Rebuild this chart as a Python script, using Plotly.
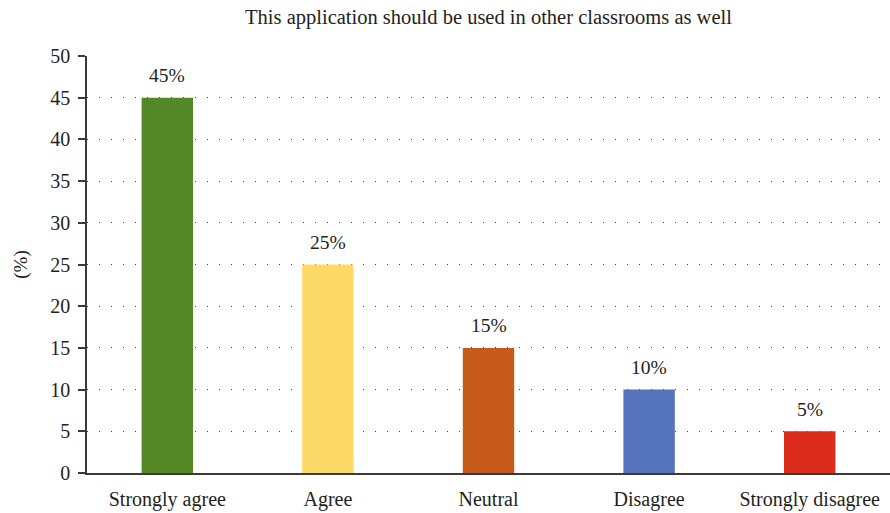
import plotly.graph_objects as go

categories = ["Strongly agree", "Agree", "Neutral", "Disagree", "Strongly disagree"]
percentages = [45, 25, 15, 10, 5]
bar_colors = ["#548726", "#FDD967", "#C55A1A", "#5573BD", "#DC2D1C"]
title_text = "This application should be used in other classrooms as well"
y_title = "(%)"
y_ticks = list(range(0, 51, 5))

font_family = "Liberation Serif, Times New Roman, serif"
ink = "#231F20"

fig = go.Figure(
    go.Bar(
        x=categories,
        y=percentages,
        marker=dict(color=bar_colors, line=dict(width=0)),
        hoverinfo="x+y",
    )
)

# value labels floating above each bar
for cat, val in zip(categories, percentages):
    fig.add_annotation(
        x=cat,
        y=val,
        text=f"{val}%",
        showarrow=False,
        yanchor="middle",
        yshift=22,
        font=dict(family=font_family, size=19.5, color=ink),
    )

fig.update_layout(
    width=890,
    height=513,
    margin=dict(l=87, r=0, t=56, b=40),
    paper_bgcolor="white",
    plot_bgcolor="white",
    bargap=0.68,
    showlegend=False,
    font=dict(family=font_family, size=20, color=ink),
    title=dict(
        text=title_text,
        xref="paper",
        x=0.5,
        xanchor="center",
        y=1 - 17 / 513,
        yanchor="middle",
        font=dict(family=font_family, size=20.5, color=ink),
    ),
)

fig.update_xaxes(
    showline=True,
    linecolor="#3a3a3a",
    linewidth=1.5,
    ticks="",
    showgrid=False,
    ticklabelstandoff=7,
    tickfont=dict(family=font_family, size=20, color=ink),
)

fig.update_yaxes(
    range=[0, 50],
    tickvals=y_ticks,
    showline=True,
    linecolor="#3a3a3a",
    linewidth=1.5,
    ticks="outside",
    ticklen=7,
    tickcolor="#3a3a3a",
    tickwidth=1.5,
    showgrid=True,
    gridcolor="#444444",
    gridwidth=1.2,
    griddash="1px,11px",
    zeroline=False,
    ticklabelstandoff=4,
    tickfont=dict(family=font_family, size=20, color=ink),
    title=dict(text=y_title, font=dict(family=font_family, size=19, color=ink), standoff=18),
)

fig.write_html("out.html")
